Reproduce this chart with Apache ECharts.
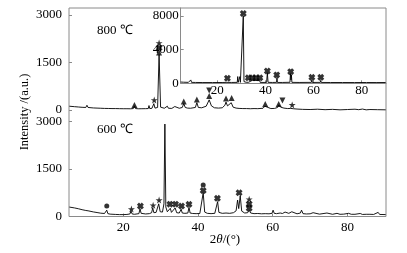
<!DOCTYPE html>
<html>
<head>
<meta charset="UTF-8">
<script src="https://cdn.jsdelivr.net/npm/echarts@6/dist/echarts.min.js"></script>
<style>
  html, body { margin: 0; padding: 0; background: #fff; }
  #chart { width: 407px; height: 253px; }
</style>
</head>
<body>
<div id="chart"></div>
<script>
// 800 C pattern (upper panel), [2theta, intensity]
const curve800 = [
  [5.5,120],[6,115],[7,105],[8,95],[9,85],[10,80],[10.3,150],[10.6,80],[11,75],[12,65],[13,60],[14,55],
  [15,50],[16,48],[17,45],[18,45],[19,42],[20,40],[21,40],[22,38],[22.7,45],[23.0,130],[23.3,45],[24,38],
  [25,40],[26,42],[26.7,45],[26.9,140],[27.1,45],[27.7,55],[28.2,200],[28.5,60],[29.2,80],[29.6,1750],
  [30.0,90],[30.5,60],[31,55],[31.8,120],[32.1,55],[33,50],[33.8,110],[34.1,50],[35,55],[35.8,80],
  [36.2,200],[36.6,80],[37.2,60],[38,55],[39.3,80],[39.7,230],[40.1,80],[41,70],[42.2,120],[43.0,320],
  [43.6,130],[44.4,70],[45.5,60],[46.5,70],[47.2,150],[47.5,250],[47.9,130],[48.3,140],[48.9,230],
  [49.4,90],[50.2,60],[51,50],[52,45],[53,45],[54,40],[55,45],[56,42],[57.4,55],[57.9,120],[58.4,60],
  [59.5,45],[60.5,50],[61.3,80],[61.6,160],[62.1,90],[62.5,140],[63,60],[64,45],[64.8,50],[65.1,90],
  [65.5,40],[66.5,30],[68,20],[70,15],[72,25],[74,10],[76,20],[78,5],[80,15],[82,25],[83,10],[84,30],
  [85,5],[86,15],[88,10],[90.3,5]
];
// 600 C pattern (lower panel)
const curve600 = [
  [5.5,300],[6,290],[7,270],[8,245],[9,215],[10,190],[10.3,230],[10.6,180],[11,165],[12,145],[13,125],
  [14,105],[15,95],[15.3,100],[15.6,200],[15.9,90],[16.5,75],[17,70],[18,65],[19,60],[20,60],[21,65],
  [21.8,80],[22.1,170],[22.4,80],[23,70],[24.2,90],[24.5,240],[24.8,100],[25.2,85],[26,80],[27,90],
  [27.6,120],[27.9,270],[28.2,120],[28.8,130],[29.5,400],[29.9,150],[30.5,140],[30.9,400],[31.15,2920],
  [31.4,300],[31.8,150],[32.3,130],[32.6,260],[32.9,130],[33.4,120],[33.9,270],[34.3,120],[35,110],
  [35.5,230],[35.8,110],[36.5,100],[37.3,110],[37.6,290],[37.9,110],[38.6,95],[39.5,90],[40.5,95],
  [41.0,150],[41.4,750],[41.8,140],[42.5,100],[43.5,90],[44.5,100],[45.0,150],[45.25,470],[45.6,130],
  [46.5,100],[47.5,110],[48.5,100],[49.5,120],[50.2,180],[50.6,520],[50.9,250],[51.3,650],[51.7,170],
  [52.5,110],[53.3,120],[53.7,200],[54.1,110],[55,90],[56,95],[57,85],[58,90],[59,85],[59.8,100],
  [60.1,200],[60.4,100],[61,90],[62,110],[62.6,95],[63.3,140],[63.8,160],[64.3,100],[65.1,150],
  [65.6,90],[66.5,85],[67.4,110],[67.7,200],[68.1,90],[69,80],[70,85],[70.8,120],[71.3,80],[72.5,75],
  [74.5,110],[75,75],[76,70],[77.2,100],[78,70],[79,75],[80.3,100],[81,70],[82,70],[83.4,95],[84,65],
  [85,70],[86,70],[87,65],[88.2,130],[88.6,65],[90.3,60]
];
// inset pattern
const curveInset = [
  [4.8,150],[6,130],[8,110],[9.0,400],[9.3,110],[11,100],[14,90],[18,90],[22,95],[24.0,110],[24.2,300],
  [24.4,110],[26,100],[28.3,110],[28.5,800],[28.7,110],[29.2,110],[29.4,800],[29.6,110],[30.4,150],
  [30.8,8000],[31.1,200],[32,120],[32.8,300],[33.0,120],[34.5,350],[34.7,120],[36.0,330],[36.2,110],
  [37.6,350],[37.8,110],[39,100],[40.5,110],[40.8,1250],[41.1,110],[43,100],[44.6,110],[44.8,700],
  [45.0,100],[47,100],[50.2,120],[50.4,1150],[50.6,400],[50.8,1000],[51.0,110],[54,100],[59.1,110],
  [59.3,400],[59.5,100],[62.8,110],[63.0,350],[63.2,100],[67,95],[72,95],[77,90],[82,95],[86,90],[90.1,95]
];

// phase markers
const tri800 = [[23.0,160],[29.6,1815],[36.2,270],[39.7,330],[43.0,440],[47.5,365],[49.0,380],[58.0,190],[61.6,190]];
const inv800 = [[43.0,615],[62.6,300]];
const star800 = [[28.3,315],[29.6,2115],[65.2,160]];
const cross800 = [[29.6,1960]];
const star600 = [[22.2,235],[28.0,355],[29.6,520],[53.7,545]];
const cross600 = [[24.6,330],[31.2,3240],[31.2,3015],[32.5,390],[34.0,390],[35.6,330],[37.6,385],
  [41.4,820],[45.2,575],[51.0,750],[53.7,395],[53.7,260]];
const dot600 = [[15.6,330],[41.4,995]];
const crossInset = [[24.2,600],[30.8,8300],[32.9,650],[34.6,650],[36.1,650],[37.7,650],[40.8,1460],
  [44.7,990],[50.5,1380],[59.3,710],[63.0,710]];

const mainTicks = [0, 1500, 3000];
const insetTicks = [0, 4000, 8000];

const FONT = 'Liberation Serif';
const AX = '#8a8a8a';
const INK = '#000';

const CROSS = 'path://M0,3L3,0L5,2L7,0L10,3L8,5L10,7L7,10L5,8L3,10L0,7L2,5Z';
const STAR = 'path://M5,0L6.2,3.6L10,3.6L6.9,5.9L8.1,9.5L5,7.3L1.9,9.5L3.1,5.9L0,3.6L3.8,3.6Z';
const INV = 'path://M0,0L10,0L5,9Z';

const plain = v => String(v);
const labelStyle = { fontFamily: FONT, fontSize: 13, color: '#000', fontWeight: 'normal' };

function yAx(idx, max, interval, showLine) {
  return {
    type: 'value', gridIndex: idx, min: 0, max: max, interval: interval,
    axisLine: { show: showLine, lineStyle: { color: AX, width: 1 } },
    axisTick: { show: true, inside: true, length: 3, lineStyle: { color: AX } },
    axisLabel: Object.assign({}, labelStyle, { margin: idx === 2 ? 2 : 7,
      formatter: plain, showMaxLabel: idx === 2 ? false : null }),
    splitLine: { show: false }
  };
}

function marks(data, symbol, size, xi, yi) {
  return {
    type: 'scatter', xAxisIndex: xi, yAxisIndex: yi, data: data, symbol: symbol,
    symbolSize: size, itemStyle: { color: '#000' }, z: 5, silent: true
  };
}

function line(data, xi, yi) {
  return {
    type: 'line', xAxisIndex: xi, yAxisIndex: yi, data: data, showSymbol: false, clip: false,
    lineStyle: { color: INK, width: 0.9 }, silent: true
  };
}

const chart = echarts.init(document.getElementById('chart'), null, { renderer: 'canvas' });
chart.setOption({
  animation: false,
  backgroundColor: '#fff',
  textStyle: { fontFamily: FONT },
  grid: [
    { left: 69, right: 21, top: 15, height: 95 },
    { left: 69, right: 21, top: 121.5, height: 95 },
    { left: 180.7, right: 21, top: 8, height: 75.3 }
  ],
  xAxis: [
    { type: 'value', gridIndex: 0, min: 5.5, max: 90.3, show: false },
    { type: 'value', gridIndex: 1, min: 5.5, max: 90.3, splitNumber: 4,
      axisLine: { show: false },
      axisTick: { show: true, inside: true, length: 3, lineStyle: { color: AX } },
      axisLabel: Object.assign({}, labelStyle, { margin: 5, formatter: plain,
        showMinLabel: false, showMaxLabel: false }),
      splitLine: { show: false } },
    { type: 'value', gridIndex: 2, min: 4.8, max: 90.1, splitNumber: 4,
      axisLine: { show: true, lineStyle: { color: AX, width: 1 } },
      axisTick: { show: true, inside: true, length: 3, lineStyle: { color: AX } },
      axisLabel: Object.assign({}, labelStyle, { margin: 1, formatter: plain,
        showMinLabel: false, showMaxLabel: false }),
      splitLine: { show: false } }
  ],
  yAxis: [
    yAx(0, mainTicks[2], mainTicks[1], false),
    yAx(1, mainTicks[2], mainTicks[1], false),
    yAx(2, 8951, insetTicks[1], true)
  ],
  series: [
    line(curve800, 0, 0),
    line(curve600, 1, 1),
    line(curveInset, 2, 2),
    marks(tri800, 'triangle', 6, 0, 0),
    marks(inv800, INV, 6, 0, 0),
    marks(star800, STAR, 7, 0, 0),
    marks(cross800, CROSS, 7, 0, 0),
    marks(star600, STAR, 7, 1, 1),
    marks(cross600, CROSS, 7, 1, 1),
    marks(dot600, 'circle', 5, 1, 1),
    marks(crossInset, CROSS, 7, 2, 2)
  ],
  graphic: [
    { type: 'rect', shape: { x: 69, y: 8, width: 317, height: 208.5 }, silent: true, z: 10,
      style: { fill: 'none', stroke: AX, lineWidth: 1 } },
    { type: 'text', x: 97, y: 31, silent: true,
      style: { text: '800 ℃', fontFamily: FONT, fontSize: 13, fill: '#000', verticalAlign: 'middle' } },
    { type: 'text', x: 97, y: 129.5, silent: true,
      style: { text: '600 ℃', fontFamily: FONT, fontSize: 13, fill: '#000', verticalAlign: 'middle' } },
    { type: 'text', x: 25, y: 112, rotation: Math.PI / 2, silent: true,
      style: { text: 'Intensity /(a.u.)', fontFamily: FONT, fontSize: 12.5, fill: '#000', align: 'center', verticalAlign: 'middle' } },
    { type: 'text', x: 225, y: 239.5, silent: true,
      style: { text: '2{i|θ}/(°)', fontFamily: FONT, fontSize: 13, fill: '#000', align: 'center', verticalAlign: 'middle',
        rich: { i: { fontStyle: 'italic', fontFamily: FONT, fontSize: 13 } } } }
  ]
});
</script>
</body>
</html>
